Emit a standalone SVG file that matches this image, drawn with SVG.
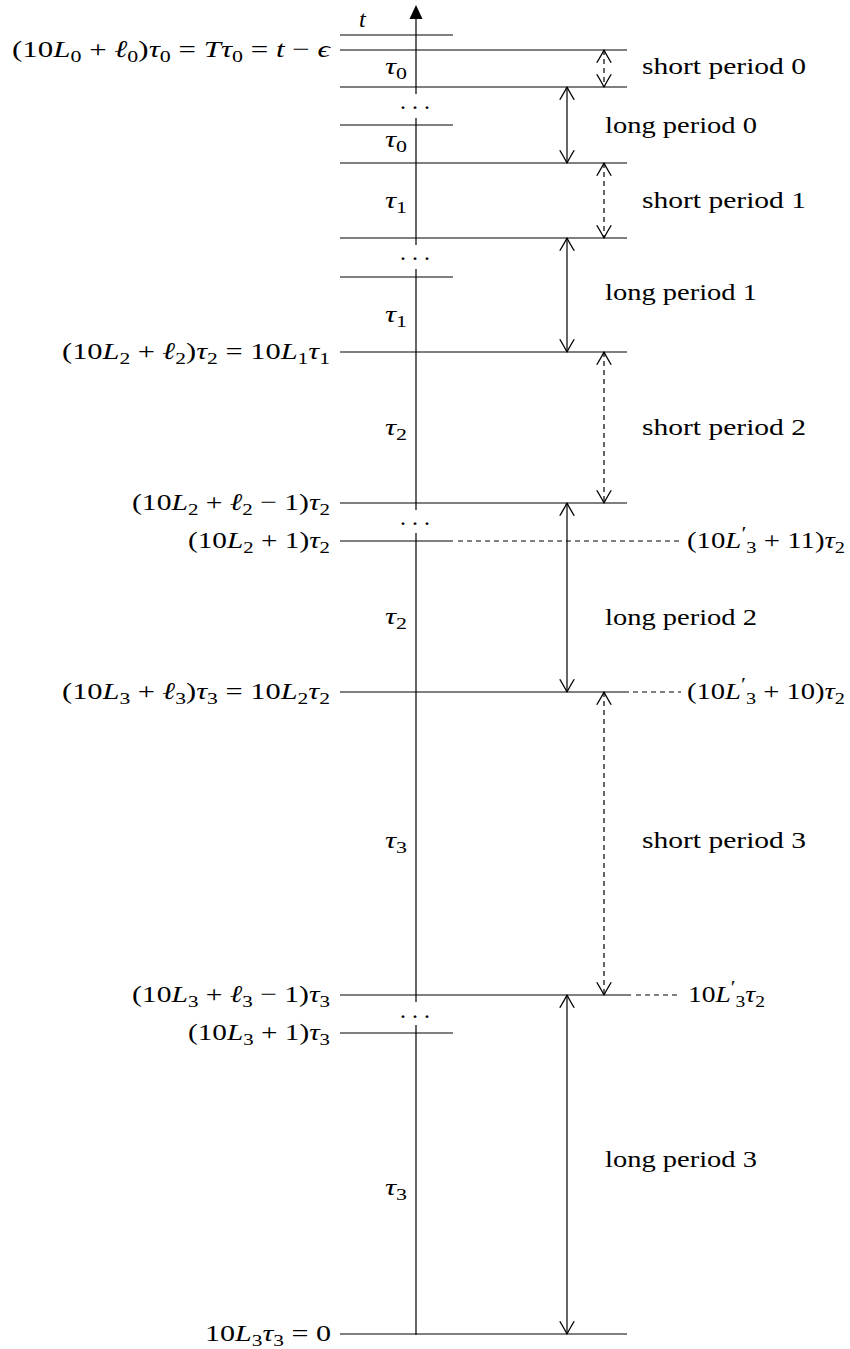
<svg xmlns="http://www.w3.org/2000/svg" width="850" height="1349" viewBox="0 0 850 1349">
<style>
text{font-family:"Liberation Serif","Times New Roman",serif;font-size:24px;fill:#000}
.i{font-style:italic}
.s{font-size:17px}
.p{font-size:19px}
.tick{stroke:#000;stroke-width:1.2;fill:none}
.ext{stroke:#000;stroke-width:1.2;stroke-dasharray:5 4;fill:none}
.axis{stroke:#000;stroke-width:1.2;fill:none}
.lp{stroke:#000;stroke-width:1.2;fill:none;marker-start:url(#open);marker-end:url(#open)}
.sp{stroke:#000;stroke-width:1.2;fill:none;stroke-dasharray:5 4;marker-start:url(#open);marker-end:url(#open)}
</style>
<defs>
<marker id="open" markerUnits="userSpaceOnUse" markerWidth="20" markerHeight="20" viewBox="-14 -9 16 18" refX="0" refY="0" orient="auto-start-reverse" overflow="visible">
<path d="M-11.5,-6.5 Q-4,-2 0,0 Q-4,2 -11.5,6.5" fill="none" stroke="#000" stroke-width="1.2" stroke-linejoin="round"/>
</marker>
</defs>

<g id="connectors">
<path class="axis" d="M416,1335 V1025 M416,1002 V533 M416,510 V269 M416,245 V118 M416,94 V18"/>
<polygon points="416,5 409.5,19 422.5,19" fill="#000"/>
<line class="sp" x1="604" y1="50" x2="604" y2="87"/>
<line class="lp" x1="567" y1="87" x2="567" y2="163"/>
<line class="sp" x1="604" y1="163" x2="604" y2="238"/>
<line class="lp" x1="567" y1="238" x2="567" y2="352"/>
<line class="sp" x1="604" y1="352" x2="604" y2="503"/>
<line class="lp" x1="567" y1="503" x2="567" y2="692"/>
<line class="sp" x1="604" y1="692" x2="604" y2="995"/>
<line class="lp" x1="567" y1="995" x2="567" y2="1334"/>
</g>

<g id="tick-t">
<line class="tick" x1="340" y1="35" x2="453" y2="35"/>
<text class="i" x="359" y="27">t</text>
</g>

<g id="tick-top">
<line class="tick" x1="340" y1="50" x2="627" y2="50"/>
<text x="12" y="57" textLength="318" lengthAdjust="spacingAndGlyphs">(10<tspan class="i">L</tspan><tspan class="s" dy="5">0</tspan><tspan dy="-5"> + </tspan><tspan class="i">ℓ</tspan><tspan class="s" dy="5">0</tspan><tspan dy="-5">)</tspan><tspan class="i">τ</tspan><tspan class="s" dy="5">0</tspan><tspan dy="-5"> = </tspan><tspan class="i">Tτ</tspan><tspan class="s" dy="5">0</tspan><tspan dy="-5"> = </tspan><tspan class="i">t</tspan> − <tspan class="i">ϵ</tspan></text>
</g>

<g id="tick-87">
<line class="tick" x1="340" y1="87" x2="627" y2="87"/>
<text x="400 412 424" y="108.5">...</text>
</g>
<g id="tick-125"><line class="tick" x1="340" y1="125" x2="453" y2="125"/></g>
<g id="tick-163"><line class="tick" x1="340" y1="163" x2="627" y2="163"/></g>
<g id="tick-238">
<line class="tick" x1="340" y1="238" x2="627" y2="238"/>
<text x="400 412 424" y="260">...</text>
</g>
<g id="tick-277"><line class="tick" x1="340" y1="277" x2="453" y2="277"/></g>

<g id="tick-352">
<line class="tick" x1="340" y1="352" x2="627" y2="352"/>
<text x="62" y="359" textLength="268" lengthAdjust="spacingAndGlyphs">(10<tspan class="i">L</tspan><tspan class="s" dy="5">2</tspan><tspan dy="-5"> + </tspan><tspan class="i">ℓ</tspan><tspan class="s" dy="5">2</tspan><tspan dy="-5">)</tspan><tspan class="i">τ</tspan><tspan class="s" dy="5">2</tspan><tspan dy="-5"> = 10</tspan><tspan class="i">L</tspan><tspan class="s" dy="5">1</tspan><tspan class="i" dy="-5">τ</tspan><tspan class="s" dy="5">1</tspan></text>
</g>

<g id="tick-503">
<line class="tick" x1="340" y1="503" x2="627" y2="503"/>
<text x="132" y="510" textLength="198" lengthAdjust="spacingAndGlyphs">(10<tspan class="i">L</tspan><tspan class="s" dy="5">2</tspan><tspan dy="-5"> + </tspan><tspan class="i">ℓ</tspan><tspan class="s" dy="5">2</tspan><tspan dy="-5"> − 1)</tspan><tspan class="i">τ</tspan><tspan class="s" dy="5">2</tspan></text>
<text x="400 412 424" y="525">...</text>
</g>

<g id="tick-541">
<line class="tick" x1="340" y1="541" x2="453" y2="541"/>
<line class="ext" x1="458" y1="541" x2="681" y2="541"/>
<text x="188" y="548" textLength="142" lengthAdjust="spacingAndGlyphs">(10<tspan class="i">L</tspan><tspan class="s" dy="5">2</tspan><tspan dy="-5"> + 1)</tspan><tspan class="i">τ</tspan><tspan class="s" dy="5">2</tspan></text>
<text x="687" y="548" textLength="158" lengthAdjust="spacingAndGlyphs">(10<tspan class="i">L</tspan><tspan class="p" dy="-8">′</tspan><tspan class="s" dy="13">3</tspan><tspan dy="-5"> + 11)</tspan><tspan class="i">τ</tspan><tspan class="s" dy="5">2</tspan></text>
</g>

<g id="tick-692">
<line class="tick" x1="340" y1="692" x2="629" y2="692"/>
<line class="ext" x1="633" y1="692" x2="681" y2="692"/>
<text x="62" y="699" textLength="268" lengthAdjust="spacingAndGlyphs">(10<tspan class="i">L</tspan><tspan class="s" dy="5">3</tspan><tspan dy="-5"> + </tspan><tspan class="i">ℓ</tspan><tspan class="s" dy="5">3</tspan><tspan dy="-5">)</tspan><tspan class="i">τ</tspan><tspan class="s" dy="5">3</tspan><tspan dy="-5"> = 10</tspan><tspan class="i">L</tspan><tspan class="s" dy="5">2</tspan><tspan class="i" dy="-5">τ</tspan><tspan class="s" dy="5">2</tspan></text>
<text x="687" y="699" textLength="158" lengthAdjust="spacingAndGlyphs">(10<tspan class="i">L</tspan><tspan class="p" dy="-8">′</tspan><tspan class="s" dy="13">3</tspan><tspan dy="-5"> + 10)</tspan><tspan class="i">τ</tspan><tspan class="s" dy="5">2</tspan></text>
</g>

<g id="tick-995">
<line class="tick" x1="340" y1="995" x2="631" y2="995"/>
<line class="ext" x1="636" y1="995" x2="681" y2="995"/>
<text x="132" y="1002" textLength="198" lengthAdjust="spacingAndGlyphs">(10<tspan class="i">L</tspan><tspan class="s" dy="5">3</tspan><tspan dy="-5"> + </tspan><tspan class="i">ℓ</tspan><tspan class="s" dy="5">3</tspan><tspan dy="-5"> − 1)</tspan><tspan class="i">τ</tspan><tspan class="s" dy="5">3</tspan></text>
<text x="688" y="1002" textLength="77" lengthAdjust="spacingAndGlyphs">10<tspan class="i">L</tspan><tspan class="p" dy="-8">′</tspan><tspan class="s" dy="13">3</tspan><tspan class="i" dy="-5">τ</tspan><tspan class="s" dy="5">2</tspan></text>
<text x="400 412 424" y="1017.5">...</text>
</g>

<g id="tick-1033">
<line class="tick" x1="340" y1="1033" x2="453" y2="1033"/>
<text x="188" y="1040" textLength="142" lengthAdjust="spacingAndGlyphs">(10<tspan class="i">L</tspan><tspan class="s" dy="5">3</tspan><tspan dy="-5"> + 1)</tspan><tspan class="i">τ</tspan><tspan class="s" dy="5">3</tspan></text>
</g>

<g id="tick-bottom">
<line class="tick" x1="340" y1="1334" x2="627" y2="1334"/>
<text x="205" y="1341" textLength="126" lengthAdjust="spacingAndGlyphs">10<tspan class="i">L</tspan><tspan class="s" dy="5">3</tspan><tspan class="i" dy="-5">τ</tspan><tspan class="s" dy="5">3</tspan><tspan dy="-5"> = 0</tspan></text>
</g>

<g id="tau-labels">
<text x="385" y="74" textLength="22" lengthAdjust="spacingAndGlyphs"><tspan class="i">τ</tspan><tspan class="s" dy="5">0</tspan></text>
<text x="385" y="147" textLength="22" lengthAdjust="spacingAndGlyphs"><tspan class="i">τ</tspan><tspan class="s" dy="5">0</tspan></text>
<text x="385" y="208" textLength="22" lengthAdjust="spacingAndGlyphs"><tspan class="i">τ</tspan><tspan class="s" dy="5">1</tspan></text>
<text x="385" y="322" textLength="22" lengthAdjust="spacingAndGlyphs"><tspan class="i">τ</tspan><tspan class="s" dy="5">1</tspan></text>
<text x="385" y="435" textLength="22" lengthAdjust="spacingAndGlyphs"><tspan class="i">τ</tspan><tspan class="s" dy="5">2</tspan></text>
<text x="385" y="624" textLength="22" lengthAdjust="spacingAndGlyphs"><tspan class="i">τ</tspan><tspan class="s" dy="5">2</tspan></text>
<text x="385" y="848" textLength="22" lengthAdjust="spacingAndGlyphs"><tspan class="i">τ</tspan><tspan class="s" dy="5">3</tspan></text>
<text x="385" y="1195" textLength="22" lengthAdjust="spacingAndGlyphs"><tspan class="i">τ</tspan><tspan class="s" dy="5">3</tspan></text>
</g>

<g id="short-period-0"><text x="642" y="74" textLength="164" lengthAdjust="spacingAndGlyphs">short period 0</text></g>
<g id="long-period-0"><text x="605" y="133" textLength="152" lengthAdjust="spacingAndGlyphs">long period 0</text></g>
<g id="short-period-1"><text x="642" y="208" textLength="164" lengthAdjust="spacingAndGlyphs">short period 1</text></g>
<g id="long-period-1"><text x="605" y="300" textLength="152" lengthAdjust="spacingAndGlyphs">long period 1</text></g>
<g id="short-period-2"><text x="642" y="435" textLength="164" lengthAdjust="spacingAndGlyphs">short period 2</text></g>
<g id="long-period-2"><text x="605" y="625" textLength="152" lengthAdjust="spacingAndGlyphs">long period 2</text></g>
<g id="short-period-3"><text x="642" y="848" textLength="164" lengthAdjust="spacingAndGlyphs">short period 3</text></g>
<g id="long-period-3"><text x="605" y="1167" textLength="152" lengthAdjust="spacingAndGlyphs">long period 3</text></g>
</svg>
